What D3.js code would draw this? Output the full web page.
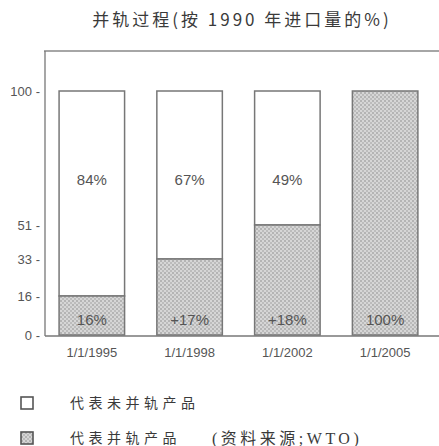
<!DOCTYPE html>
<html>
<head>
<meta charset="utf-8">
<script src="https://cdn.jsdelivr.net/npm/d3@7"></script>
<style>
  body { margin: 0; background: #fff; }
  svg { display: block; }
  .tick-label { font-family: "Liberation Sans Narrow", "Liberation Sans", Arial, sans-serif; font-size: 13px; fill: #555; }
  .x-label { font-family: "Liberation Sans Narrow", "Liberation Sans", Arial, sans-serif; font-size: 13px; fill: #555; }
  .bar-label { font-family: "Liberation Sans", Arial, sans-serif; font-size: 15px; fill: #555; }
  .title { font-family: "Noto Sans CJK SC", sans-serif; font-size: 17px; fill: #3a3a3a; letter-spacing: 3px; }
  .legend-text { font-family: "Noto Sans CJK SC", sans-serif; font-size: 14px; fill: #3a3a3a; letter-spacing: 4.5px; }
  .source { font-family: "Liberation Serif", "Noto Sans CJK SC", serif; font-size: 16px; fill: #3a3a3a; letter-spacing: 3.5px; }
</style>
</head>
<body>
<div id="chart"></div>
<script>
const dates = ["1/1/1995", "1/1/1998", "1/1/2002", "1/1/2005"];
const merged = [16, 33, 51, 100];        // cumulative share already merged
const unmerged = [84, 67, 49, 0];
const mergedLabels = ["16%", "+17%", "+18%", "100%"];
const unmergedLabels = ["84%", "67%", "49%", ""];
const yTicks = [0, 16, 33, 51, 100];
const legendItems = ["代表未并轨产品", "代表并轨产品"];

const width = 439, height = 446;

const svg = d3.select("#chart")
    .append("svg")
    .attr("width", width)
    .attr("height", height);

// dotted halftone pattern for the merged part
const defs = svg.append("defs");
const pat = defs.append("pattern")
    .attr("id", "dots")
    .attr("width", 4)
    .attr("height", 4)
    .attr("patternUnits", "userSpaceOnUse");
pat.append("rect").attr("width", 4).attr("height", 4).attr("fill", "#d6d6d6");
pat.append("rect").attr("x", 0).attr("y", 0).attr("width", 2).attr("height", 2).attr("fill", "#b4b4b4");
pat.append("rect").attr("x", 2).attr("y", 2).attr("width", 2).attr("height", 2).attr("fill", "#bcbcbc");

// the source axis is not evenly spaced, so the scale follows its ticks
const y = d3.scaleLinear()
    .domain(yTicks)
    .range([335, 296, 259, 225, 91]);

const x = d3.scaleBand()
    .domain(dates)
    .range([45, 439])
    .paddingInner(0.33)
    .paddingOuter(0.18)
    .align(0.4);

// title
svg.append("text")
    .attr("class", "title")
    .attr("x", 242)
    .attr("y", 26)
    .attr("text-anchor", "middle")
    .text("并轨过程(按 1990 年进口量的%)");

// frame: top line and left axis, baseline
svg.append("line")
    .attr("x1", 44).attr("x2", width)
    .attr("y1", 51).attr("y2", 51)
    .attr("stroke", "#888").attr("stroke-width", 1.3);
svg.append("line")
    .attr("x1", 45).attr("x2", 45)
    .attr("y1", 51).attr("y2", y(0) + 1)
    .attr("stroke", "#777").attr("stroke-width", 1.3);
svg.append("line")
    .attr("x1", 45).attr("x2", width)
    .attr("y1", y(0) + 1).attr("y2", y(0) + 1)
    .attr("stroke", "#777").attr("stroke-width", 1.3);

// y tick labels
svg.selectAll(".tick-label")
    .data(yTicks)
    .enter()
    .append("text")
    .attr("class", "tick-label")
    .attr("x", 40)
    .attr("y", d => y(d))
    .attr("dy", "0.35em")
    .attr("text-anchor", "end")
    .text(d => d + " -");

// x labels
svg.selectAll(".x-label")
    .data(dates)
    .enter()
    .append("text")
    .attr("class", "x-label")
    .attr("x", d => x(d) + x.bandwidth() / 2)
    .attr("y", 357)
    .attr("text-anchor", "middle")
    .text(d => d);

// unmerged (white) part
svg.selectAll(".bar-top")
    .data(dates)
    .enter()
    .filter((d, i) => unmerged[i] > 0)
    .append("rect")
    .attr("class", "bar-top")
    .attr("x", d => x(d))
    .attr("width", x.bandwidth())
    .attr("y", (d, i) => y(merged[i] + unmerged[i]))
    .attr("height", (d, i) => y(merged[i]) - y(merged[i] + unmerged[i]))
    .attr("fill", "#fff")
    .attr("stroke", "#777")
    .attr("stroke-width", 1.5);

// merged (dotted) part
svg.selectAll(".bar-bottom")
    .data(dates)
    .enter()
    .append("rect")
    .attr("class", "bar-bottom")
    .attr("x", d => x(d))
    .attr("width", x.bandwidth())
    .attr("y", (d, i) => y(merged[i]))
    .attr("height", (d, i) => y(0) - y(merged[i]))
    .attr("fill", "url(#dots)")
    .attr("stroke", "#777")
    .attr("stroke-width", 1.5);

// labels: upper ones sit at one height, lower ones just above the base
svg.selectAll(".label-top")
    .data(dates)
    .enter()
    .append("text")
    .attr("class", "bar-label")
    .attr("x", d => x(d) + x.bandwidth() / 2)
    .attr("y", y(100) + 89)
    .attr("dy", "0.35em")
    .attr("text-anchor", "middle")
    .text((d, i) => unmergedLabels[i]);

svg.selectAll(".label-bottom")
    .data(dates)
    .enter()
    .append("text")
    .attr("class", "bar-label")
    .attr("x", d => x(d) + x.bandwidth() / 2)
    .attr("y", y(0) - 15)
    .attr("dy", "0.35em")
    .attr("text-anchor", "middle")
    .text((d, i) => mergedLabels[i]);

// legend
const legend = svg.selectAll(".legend")
    .data(legendItems)
    .enter()
    .append("g")
    .attr("transform", (d, i) => `translate(21, ${397 + i * 35})`);

legend.append("rect")
    .attr("width", 12)
    .attr("height", 12)
    .attr("fill", (d, i) => i === 0 ? "#fff" : "url(#dots)")
    .attr("stroke", "#555")
    .attr("stroke-width", 1.6);

legend.append("text")
    .attr("class", "legend-text")
    .attr("x", 49)
    .attr("y", 6)
    .attr("dy", "0.35em")
    .text(d => d);

svg.append("text")
    .attr("class", "source")
    .attr("x", 212)
    .attr("y", 438)
    .attr("dy", "0.35em")
    .text("(资料来源;WTO)");
</script>
</body>
</html>
